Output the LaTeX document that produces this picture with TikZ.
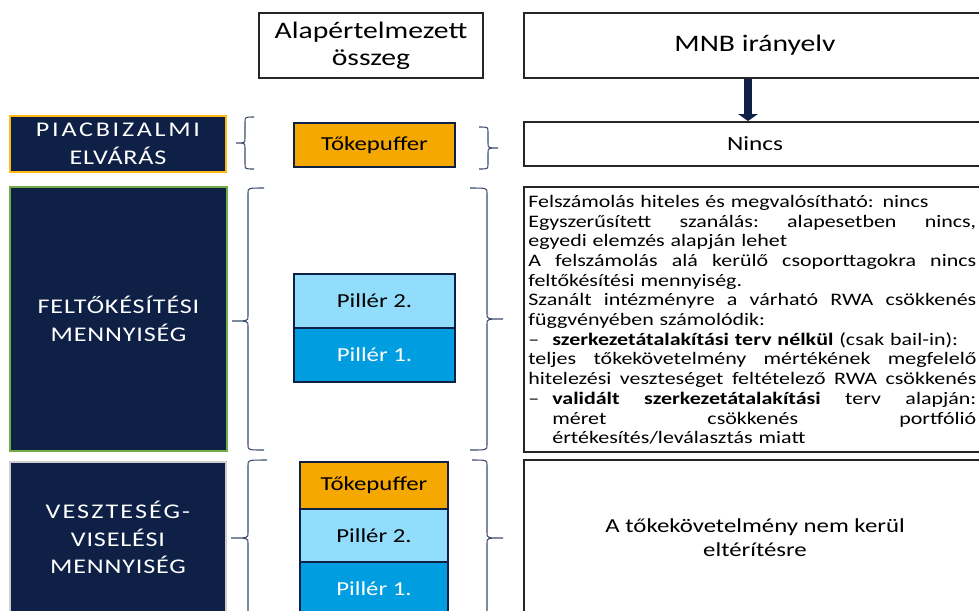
\documentclass[tikz,border=0pt]{standalone}
\usepackage{fontspec}
\setmainfont{Carlito}[FakeStretch=1.25]
\newfontfamily\capsfont{Carlito}[FakeStretch=1.25,LetterSpace=4]
\usetikzlibrary{arrows.meta}

\definecolor{navy}{RGB}{14,32,70}
\definecolor{puffer}{RGB}{245,168,0}
\definecolor{pillar2}{RGB}{146,221,251}
\definecolor{pillar1}{RGB}{0,158,224}
\definecolor{frameorange}{RGB}{255,185,20}
\definecolor{framegreen}{RGB}{112,173,71}
\definecolor{framegrey}{RGB}{205,205,205}
\definecolor{bracecol}{RGB}{60,75,105}

\newcommand{\jline}[2][0cm]{\hspace*{#1}\makebox[\dimexpr 8.96cm-#1\relax][s]{#2}}
\newcommand{\curlbrace}[6]{\draw[bracket] (#5,#2) .. controls (#1,#2) .. (#1,#2+5) -- (#1,#4-5) .. controls (#1,#4) .. (#6,#4)
  (#6,#4) .. controls (#1,#4) .. (#1,#4+5) -- (#1,#3-5) .. controls (#1,#3) .. (#5,#3);}

\begin{document}
\begin{tikzpicture}[x=0.02cm, y=-0.02cm]
                \tikzset{rulebox/.style={draw=black!85, line width=1.1pt, fill=white, align=center, inner sep=0pt},
                         labelbox/.style={fill=navy, text=white, line width=1.1pt, align=center, inner sep=0pt, font=\capsfont\fontsize{11.9}{15.8}\selectfont},
                         stackbox/.style={draw=navy, line width=0.9pt, align=center, inner sep=0pt, minimum width=3.22cm, font=\fontsize{11.3}{13}\selectfont},
                         bracket/.style={draw=bracecol, line width=0.6pt},
                         bigarrow/.style={draw=navy, line width=5pt, -{Triangle[length=4pt,width=11pt]}}}

                \useasboundingbox (0,0) rectangle (979,610);
                \clip (0,0) rectangle (979,610);

                \node[rulebox, minimum width=4.48cm, minimum height=1.3cm, font=\fontsize{13.5}{15.3}\selectfont] (alap) at (371,45.5) {Alapértelmezett\\összeg};
                \node[rulebox, minimum width=9.24cm, minimum height=1.3cm, font=\fontsize{13.5}{15.3}\selectfont] (mnb) at (755,45.5) {MNB irányelv};

                \node[labelbox, draw=frameorange, minimum width=4.32cm, minimum height=1.12cm] (piac) at (118,144) {\addfontfeature{LetterSpace=13}PIACBIZALMI\\ELVÁRÁS};
                \node[stackbox, fill=puffer, minimum height=0.88cm] (puffer) at (374.5,145) {Tőkepuffer};
                \node[rulebox, minimum width=9.24cm, minimum height=0.88cm, font=\fontsize{11.5}{13}\selectfont] (nincs) at (755,144) {Nincs};

                \draw[bigarrow] ([xshift=-0.14cm]mnb.south) -- ([xshift=-0.14cm]nincs.north);

                \node[labelbox, draw=framegreen, minimum width=4.34cm, minimum height=5.28cm] (feltoke) at (118.5,319) {FELTŐKÉSÍTÉSI\\MENNYISÉG};
                \node[stackbox, fill=pillar2, minimum height=1.08cm] (pill2) at (374.5,301) {Pillér 2.};
                \node[stackbox, fill=pillar1, text=white, minimum height=1.08cm] (pill1) at (374.5,355) {Pillér 1.};
                \node[rulebox, minimum width=9.24cm, minimum height=5.3cm] (rwabox) at (755,319.5) {};
                \node[anchor=north west, inner sep=0pt, text width=8.96cm, align=left, font=\fontsize{10}{11.2}\selectfont] (rwatext) at (528,195) {%
                Felszámolás hiteles és megvalósítható: nincs\\
                \jline{Egyszerűsített\hfill szanálás:\hfill alapesetben\hfill nincs,}\\
                egyedi elemzés alapján lehet\\
                \jline{A\hfill felszámolás\hfill alá\hfill kerülő\hfill csoporttagokra\hfill nincs}\\
                feltőkésítési mennyiség.\\
                \jline{Szanált\hfill intézményre\hfill a\hfill várható\hfill RWA\hfill csökkenés}\\
                függvényében számolódik:\\
                \makebox[0.48cm][l]{–}\textbf{szerkezetátalakítási terv nélkül} (csak bail-in):\\
                \jline{teljes\hfill tőkekövetelmény\hfill mértékének\hfill megfelelő}\\
                \jline{hitelezési\hfill veszteséget\hfill feltételező\hfill RWA\hfill csökkenés}\\
                \jline{\makebox[0.48cm][l]{–}\textbf{validált\hfill szerkezetátalakítási}\hfill terv\hfill alapján:}\\
                \jline[0.48cm]{méret\hfill csökkenés\hfill portfólió}\\
                \hspace*{0.48cm}értékesítés/leválasztás miatt};

                \node[labelbox, draw=framegrey, minimum width=4.32cm, minimum height=3.02cm] (veszt) at (118,537.5) {\addfontfeature{LetterSpace=10}VESZTESÉG-\\VISELÉSI\\MENNYISÉG};
                \node[stackbox, fill=puffer, minimum width=2.96cm, minimum height=0.94cm] (puffer2) at (374,485.5) {Tőkepuffer};
                \node[stackbox, fill=pillar2, minimum width=2.96cm, minimum height=1.06cm] (pill2b) at (374,535.5) {Pillér 2.};
                \node[stackbox, fill=pillar1, text=white, minimum width=2.96cm, minimum height=1.06cm] (pill1b) at (374,588.5) {Pillér 1.};
                \node[rulebox, minimum width=9.24cm, minimum height=3.1cm, font=\fontsize{11.3}{14}\selectfont] (nodiv) at (755,537.5) {A tőkekövetelmény nem kerül\\eltérítésre};

                \curlbrace{245}{117}{169}{143}{254}{236}
                \curlbrace{488}{127}{169}{148}{479}{498}
                \curlbrace{248}{188}{450}{321}{264}{232}
                \curlbrace{487}{188}{450}{319}{470}{503}
                \curlbrace{248}{460}{616}{538}{267}{231}
                \curlbrace{487}{460}{616}{538}{472}{503}

\end{tikzpicture}
\end{document}
